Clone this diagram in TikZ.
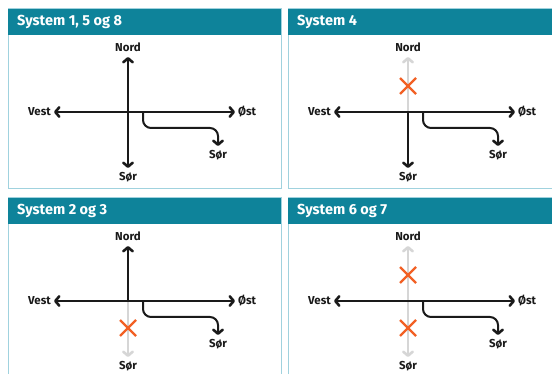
\documentclass[tikz,border=0pt]{standalone}
\usepackage{fontspec}
\setmainfont{Fira Sans}
\usetikzlibrary{arrows.meta}

\definecolor{headteal}{RGB}{14,131,154}
\definecolor{frameteal}{RGB}{160,210,222}
\definecolor{closedgray}{RGB}{214,214,214}
\definecolor{crossorange}{RGB}{242,96,36}
\definecolor{inkblack}{RGB}{26,26,26}

\tikzset{
  x=1pt, y=-1pt,
  frame/.style={draw=frameteal, line width=1pt},
  header/.style={fill=headteal},
  title/.style={anchor=west, text=white, inner sep=0pt,
    font=\bfseries\fontsize{14.5}{16}\selectfont},
  lab/.style={text=inkblack, inner sep=1pt,
    font=\bfseries\fontsize{11.5}{13}\selectfont},
  roadtip/.tip={Straight Barb[length=4pt, width=9.5pt, line width=2.6pt, round]},
  road/.style={draw=inkblack, line width=2pt, -roadtip},
  tworoad/.style={draw=inkblack, line width=2pt, roadtip-roadtip},
  closedroad/.style={draw=closedgray, line width=2pt, -roadtip},
  nogo/.style={draw=crossorange, line width=2.4pt},
}

% One panel: frame, title bar, direction labels and the named points
% used by the roads.  The roads themselves are drawn per panel.
\newcommand\compasspanel[4]{%
  \begin{scope}[shift={(#2,#3)}]
    \draw[frame] (8,9) rectangle (281,189);
    \fill[header] (8,9) rectangle (281,35);
    \node[title] (#1title) at (17,22) {#4};
    \node[lab] (#1nord) at (128,47) {Nord};
    \node[lab] (#1sor)  at (128,177) {Sør};
    \node[lab, anchor=east] (#1vest) at (52,112) {Vest};
    \node[lab, anchor=west] (#1ost)  at (237,112) {Øst};
    \node[lab] (#1sorb) at (218,155) {Sør};
    \coordinate (#1c) at (128,112);
    \coordinate (#1N) at (128,57);
    \coordinate (#1S) at (128,168);
    \coordinate (#1W) at (54,112);
    \coordinate (#1E) at (235,112);
    \coordinate (#1b) at (143,112);
    \coordinate (#1k) at (218,128);
    \coordinate (#1B) at (218,146);
    \coordinate (#1xn) at (128,86);
    \coordinate (#1xs) at (128,139);
  \end{scope}}

\newcommand\nogomark[1]{%
  \draw[nogo] ([shift={(-8,-8)}]#1) -- ([shift={(8,8)}]#1)
              ([shift={(-8,8)}]#1) -- ([shift={(8,-8)}]#1);}

% East-west road plus the branch that leaves it and turns south
\newcommand\eastwest[1]{%
  \draw[tworoad] (#1W) -- (#1E);
  \draw[road, rounded corners=8pt] (#1b) |- (#1k) -- (#1B);}

\begin{document}
\begin{tikzpicture}
  \useasboundingbox (0,0) rectangle (552,374);
  \fill[white] (0,0) rectangle (552,374);

  % System 1, 5 og 8: all directions open
  \compasspanel{a}{0}{0}{System 1, 5 og 8}
  \draw[road] (ac) -- (aN);
  \draw[road] (ac) -- (aS);
  \eastwest{a}

  % System 4: north closed
  \compasspanel{b}{280}{0}{System 4}
  \draw[closedroad] (bc) -- (bN);
  \draw[road] (bc) -- (bS);
  \eastwest{b}
  \nogomark{bxn}

  % System 2 og 3: south closed
  \compasspanel{d}{0}{189}{System 2 og 3}
  \draw[closedroad] (dc) -- (dS);
  \draw[road] (dc) -- (dN);
  \eastwest{d}
  \nogomark{dxs}

  % System 6 og 7: north and south closed
  \compasspanel{e}{280}{189}{System 6 og 7}
  \draw[closedroad] (ec) -- (eN);
  \draw[closedroad] (ec) -- (eS);
  \eastwest{e}
  \nogomark{exn}
  \nogomark{exs}
\end{tikzpicture}
\end{document}
